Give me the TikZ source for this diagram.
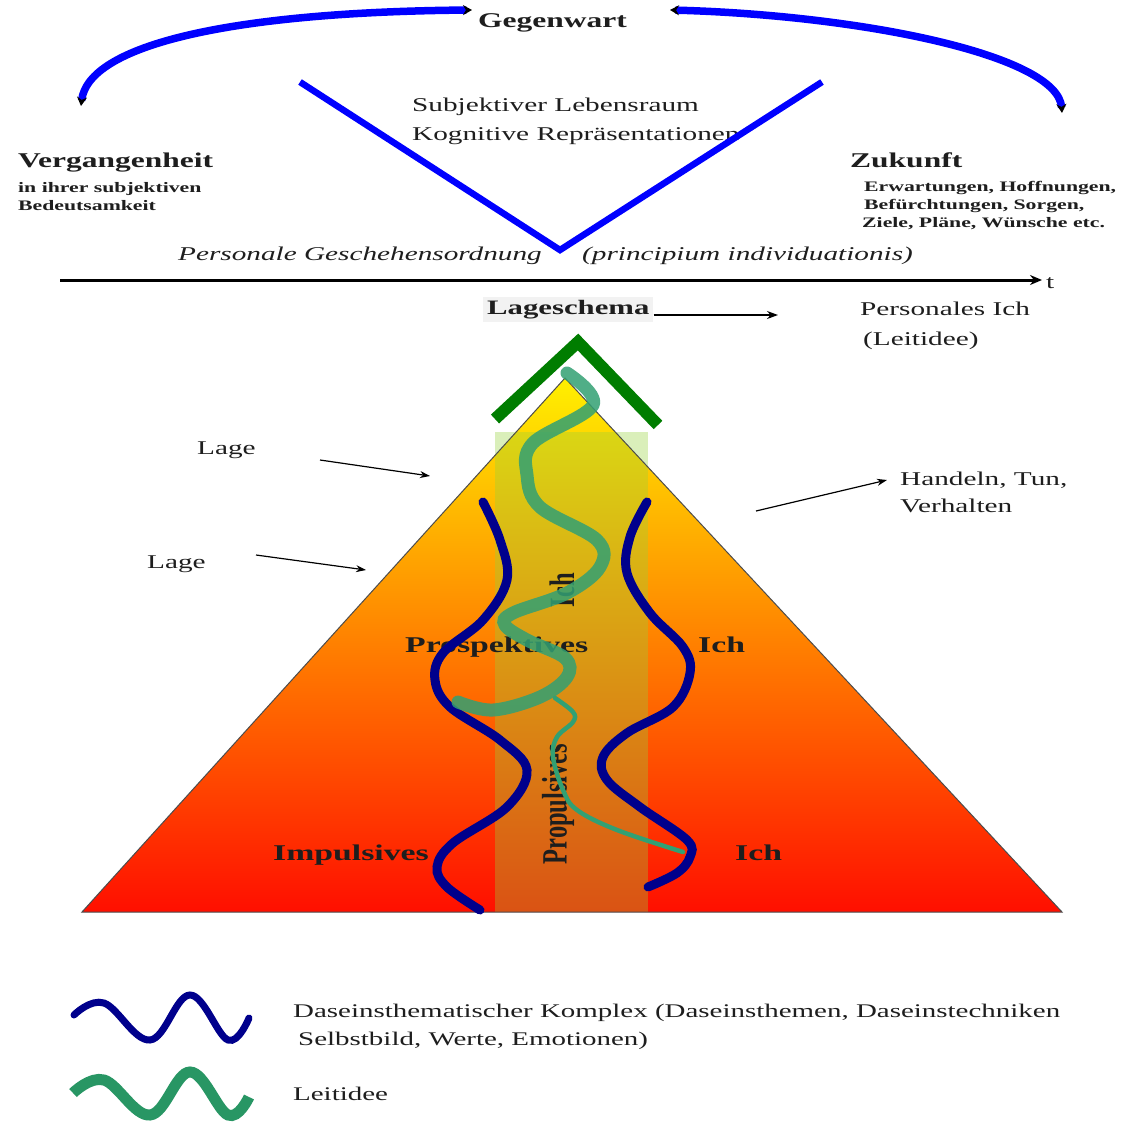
\documentclass[tikz,border=0pt]{standalone}
\usepackage{fontspec}
\setmainfont{Liberation Serif}[FakeStretch=1.5]
\newfontfamily\narrowserif{Liberation Serif}
\usetikzlibrary{arrows.meta}
\definecolor{vblue}{RGB}{0,0,255}
\definecolor{navy}{RGB}{0,0,140}
\definecolor{chev}{RGB}{0,125,0}
\definecolor{leit}{RGB}{50,160,115}
\definecolor{leg}{RGB}{40,150,100}
\definecolor{pyrtop}{RGB}{255,240,0}
\definecolor{pyrmid}{RGB}{255,150,0}
\definecolor{pyrbot}{RGB}{255,15,0}
\definecolor{bandc}{RGB}{150,210,60}
\definecolor{txtc}{RGB}{30,30,30}
\begin{document}
\begin{tikzpicture}[x=1pt,y=-1pt,
  txt/.style={inner sep=0pt, anchor=base west, text=txtc},
  head/.style={txt, font=\fontsize{21}{25}\selectfont\bfseries},
  smallb/.style={txt, font=\fontsize{14.5}{17}\selectfont\bfseries},
  norm/.style={txt, font=\fontsize{19.5}{23}\selectfont},
  ital/.style={txt, font=\fontsize{19.5}{23}\selectfont\itshape},
  inner/.style={txt, font=\fontsize{22.5}{26}\selectfont\bfseries},
  rotl/.style={rotate=90, inner sep=0pt, text=txtc, font=\narrowserif\fontsize{24.5}{28}\selectfont\bfseries},
  legtxt/.style={txt, font=\fontsize{19.3}{23}\selectfont},
  bluearc/.style={vblue, line width=7.5pt, {Stealth[length=9pt,width=10pt,color=black]}-{Stealth[length=9pt,width=10pt,color=black]}},
  vline/.style={vblue, line width=6.5pt},
  thinarrow/.style={black, line width=1.2pt, -{Stealth[length=10pt,width=7pt]}},
  navyline/.style={navy, line width=9pt, line cap=round},
  leitthick/.style={leit, line width=13pt, line cap=round, opacity=0.85},
  leitthin/.style={leit, line width=4.5pt, line cap=round}
]
\useasboundingbox (0,0) rectangle (1128,1125);
\fill[white] (0,0) rectangle (1128,1125);

% ---------- top part ----------
\node[head] (gegen) at (478,27) {Gegenwart};
\coordinate (lstart) at (81,106);
\coordinate (lend) at (472,10);
\coordinate (rstart) at (670,10);
\coordinate (rend) at (1062,113);
\draw[bluearc] (lstart) .. controls (88,45) and (230,12) .. (lend);
\draw[bluearc] (rstart) .. controls (860,15) and (1058,55) .. (rend);

\node[norm] (subj) at (412,111) {Subjektiver Lebensraum};
\node[norm] (kogn) at (412,140) {Kognitive Repräsentationen};

\coordinate (vl) at (300,82);
\coordinate (vb) at (560,250);
\coordinate (vr) at (822,82);
\draw[vline] (vl) -- (vb) -- (vr);

\node[head] (verg) at (18,167) {Vergangenheit};
\node[smallb] (verg1) at (18,192) {in ihrer subjektiven};
\node[smallb] (verg2) at (18,210) {Bedeutsamkeit};

\node[head] (zuk) at (850,167) {Zukunft};
\node[smallb] (zuk1) at (864,191) {Erwartungen, Hoffnungen,};
\node[smallb] (zuk2) at (864,209) {Befürchtungen, Sorgen,};
\node[smallb] (zuk3) at (862,227) {Ziele, Pläne, Wünsche etc.};

\node[ital] (pers) at (178,260) {Personale Geschehensordnung};
\node[ital] (princ) at (582,260) {(principium individuationis)};

\coordinate (tl) at (60,280);
\coordinate (tr) at (1042,280);
\draw[black, line width=3pt, -{Stealth[length=12pt,width=10pt]}] (tl) -- (tr);
\node[norm] (t) at (1046,288) {t};

% ---------- Lageschema ----------
\node[txt, fill=gray!10, inner xsep=4pt, inner ysep=3pt, font=\fontsize{20.5}{24}\selectfont\bfseries] (lsch) at (483,314) {Lageschema};
\coordinate (lschend) at (778,315);
\draw[black, line width=1.2pt, -{Stealth[length=11pt,width=8pt]}] (lsch.east |- lschend) -- (lschend);
\node[norm] (persich) at (860,315) {Personales Ich};
\node[norm] (leitid) at (863,345) {(Leitidee)};

% ---------- pyramid ----------
\coordinate (apex) at (565,378);
\coordinate (bl) at (82,912);
\coordinate (br) at (1062,912);
\shade[top color=pyrtop, middle color=pyrmid, bottom color=pyrbot] (apex) -- (bl) -- (br) -- cycle;
\fill[bandc, opacity=0.35] (495,432) rectangle (648,912);
\draw[black!70, line width=1pt] (apex) -- (bl) -- (br) -- cycle;

\draw[chev, line width=12pt, line join=miter] (495,419) -- (578,342) -- (658,425);

% texts in pyramid
\node[inner] (prosp) at (405,652) {Prospektives};
\node[inner] (ich1) at (698,652) {Ich};
\node[inner] (impuls) at (273,860) {Impulsives};
\node[inner] (ich2) at (735,860) {Ich};
\node[rotl] (ichv) at (562,590) {\scalebox{1}[1.45]{Ich}};
\node[rotl] (propv) at (558,804) {\scalebox{1}[1.45]{Propulsives}};

% navy curves
\draw[navyline] plot[smooth, tension=0.6] coordinates {(483,502) (500,540) (507,580) (483,620) (443,653) (435,680) (450,707) (500,740) (527,770) (507,807) (453,843) (437,867) (447,887) (480,910)};
\draw[navyline] plot[smooth, tension=0.6] coordinates {(647,502) (630,537) (627,573) (650,613) (683,647) (690,673) (673,707) (627,733) (603,757) (607,780) (640,807) (687,840) (690,857) (677,873) (648,887)};

% Leitidee curves
\draw[leitthick] plot[smooth, tension=0.6] coordinates {(567,373) (593,405) (533,443) (527,475) (540,507) (597,540) (600,567) (567,593) (513,613) (505,625) (527,640) (565,658) (567,677) (540,697) (493,710) (458,702)};
\draw[leitthin] plot[smooth, tension=0.6] coordinates {(555,698) (573,712) (573,722) (557,737) (553,757) (563,790) (577,810) (617,830) (683,852)};

% Lage arrows
\node[norm] (lage1) at (197,454) {Lage};
\node[norm] (lage2) at (147,568) {Lage};
\coordinate (l1s) at (320,460);
\coordinate (l1e) at (430,476);
\coordinate (l2s) at (256,555);
\coordinate (l2e) at (366,570);
\draw[thinarrow] (l1s) -- (l1e);
\draw[thinarrow] (l2s) -- (l2e);

\node[norm] (hand1) at (900,485) {Handeln, Tun,};
\node[norm] (hand2) at (900,512) {Verhalten};
\coordinate (hs) at (756,511);
\coordinate (he) at (887,480);
\draw[thinarrow] (hs) -- (he);

% ---------- legend ----------
\draw[navy, line width=7pt, line cap=round] plot[smooth, tension=0.65] coordinates {(74,1015) (104,1003) (150,1040) (190,995) (228,1040) (249,1018)};
\draw[leg, line width=11pt, line cap=butt] plot[smooth, tension=0.65] coordinates {(73,1093) (104,1080) (150,1115) (190,1072) (228,1115) (249,1097)};
\node[legtxt] (leg1) at (293,1017) {Daseinsthematischer Komplex (Daseinsthemen, Daseinstechniken};
\node[legtxt] (leg2) at (298,1045) {Selbstbild, Werte, Emotionen)};
\node[legtxt] (leg3) at (293,1100) {Leitidee};
\end{tikzpicture}
\end{document}
